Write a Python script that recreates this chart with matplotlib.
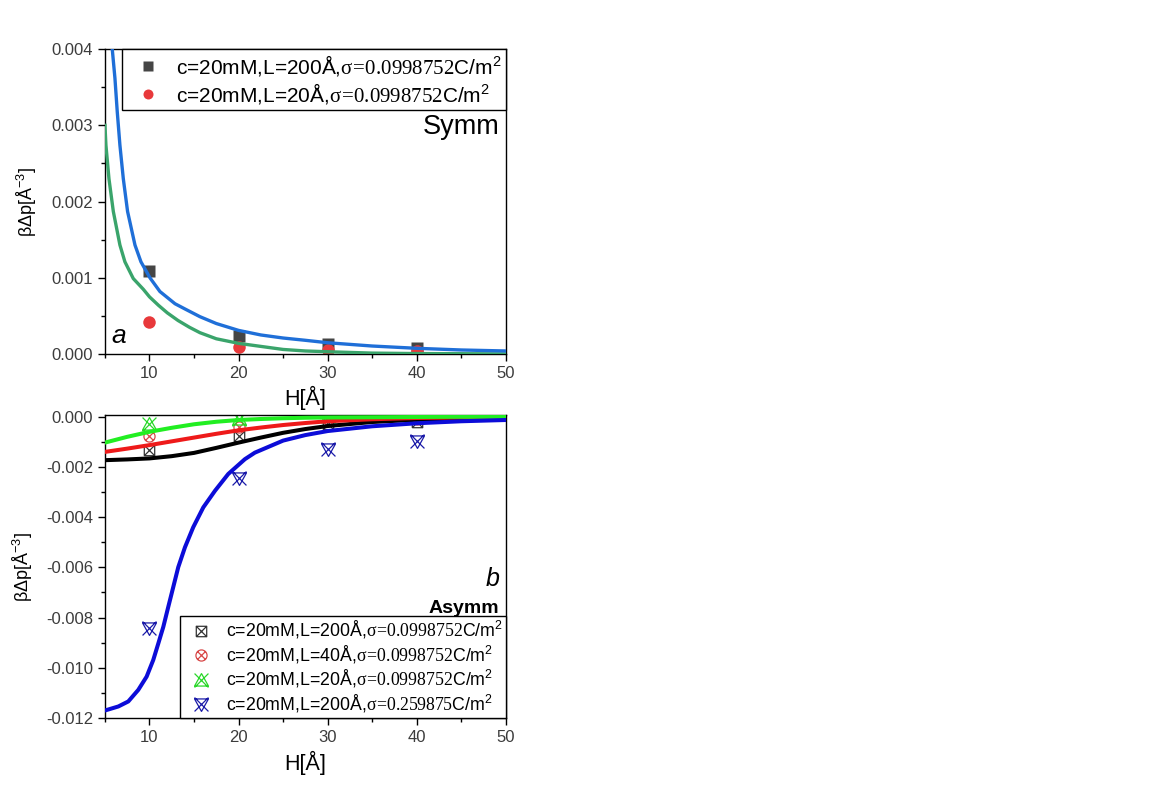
import numpy as np
import matplotlib
matplotlib.use('Agg')
import matplotlib.pyplot as plt
from matplotlib.path import Path
from matplotlib.ticker import MultipleLocator, FormatStrFormatter

plt.rcParams['font.family'] = ['Liberation Sans', 'DejaVu Sans']
plt.rcParams['mathtext.fontset'] = 'custom'
plt.rcParams['mathtext.rm'] = 'Liberation Serif'
plt.rcParams['mathtext.sf'] = 'Liberation Sans'
plt.rcParams['mathtext.it'] = 'Liberation Sans:italic'

# ---- panel a (symmetric) ----
H_pts = [10, 20, 30, 40]
symm_L200 = [0.00109, 0.00024, 0.00013, 0.000075]
symm_L20 = [0.00042, 0.000088, 0.00005, 0.00004]

h_fit200 = [5.7, 5.82, 6.12, 6.38, 6.68, 7.06, 7.54, 8.37, 9.04, 10.05, 11.17, 12.86,
            14.0, 15.66, 17.5, 20.0, 22.5, 25.0, 27.5, 30.0, 35.0, 40.0, 45.0, 50.0]
v_fit200 = [0.00415, 0.0040, 0.00362, 0.00318, 0.00274, 0.0023, 0.00187, 0.00143,
            0.00121, 0.0010, 0.00082, 0.00066, 0.00059, 0.00049, 0.0004, 0.00031,
            0.00025, 0.00021, 0.00018, 0.000148, 0.000105, 0.000075, 0.000053, 0.00004]
h_fit20 = [5.0, 5.11, 5.45, 5.94, 6.68, 7.24, 8.18, 9.3, 10.0, 11.0, 12.0, 13.2, 14.5,
           15.66, 17.5, 20.0, 22.5, 25.0, 27.5, 30.0, 35.0, 40.0, 50.0]
v_fit20 = [0.0030, 0.00274, 0.0023, 0.00187, 0.00143, 0.00121, 0.00099, 0.00085,
           0.00075, 0.00064, 0.00054, 0.00044, 0.00035, 0.00028, 0.0002, 0.00014,
           0.0001, 0.00006, 0.00004, 0.00003, 0.000012, 0.000006, 0.000002]

# ---- panel b (asymmetric) ----
asym_L200 = [-0.00133, -0.00077, -0.0003, -0.00021]
asym_L40 = [-0.00077, -0.00041, -0.0001, -0.00008]
asym_L20 = [-0.0003, -0.0001, 0.00002, 0.0001]
asym_L200_s26 = [-0.00843, -0.00245, -0.00129, -0.00096]

h_b = [5.0, 7.5, 10.0, 12.5, 15.0, 17.5, 20.0, 22.5, 25.0, 27.5, 30.0, 35.0, 40.0,
       45.0, 50.0]
v_black = [-0.00173, -0.0017, -0.00166, -0.00157, -0.00144, -0.00124, -0.00103,
           -0.00083, -0.00064, -0.00049, -0.00037, -0.00021, -0.00012, -0.00009,
           -0.00007]
v_red = [-0.0014, -0.00127, -0.00113, -0.00098, -0.00083, -0.00068, -0.00054,
         -0.00043, -0.00033, -0.00025, -0.00018, -0.0001, -0.00005, -0.00003,
         -0.00002]
v_green = [-0.00103, -0.0008, -0.0006, -0.00044, -0.0003, -0.0002, -0.00013,
           -0.00009, -0.00006, -0.00004, -0.00003, -0.00002, -0.00001, 0.0, 0.0]
h_blue = [5.0, 6.5, 7.62, 8.74, 9.68, 10.42, 10.99, 11.55, 12.11, 12.67, 13.23,
          13.98, 14.91, 16.04, 17.35, 18.84, 20.71, 21.83, 25.0, 27.5, 30.0, 35.0,
          40.0, 45.0, 50.0]
v_blue = [-0.0117, -0.01154, -0.01134, -0.01088, -0.01035, -0.00969, -0.00903,
          -0.00837, -0.00757, -0.00678, -0.00599, -0.0052, -0.0044, -0.00361,
          -0.00295, -0.00228, -0.00169, -0.00143, -0.00095, -0.00073, -0.00057,
          -0.00038, -0.00026, -0.00018, -0.00013]

lab200 = r'c=20mM,L=200Å,$\mathrm{\sigma\!=\!0.0998752}$C/m$^{\mathsf{2}}$'
lab40 = r'c=20mM,L=40Å,$\mathrm{\sigma\!=\!0.0998752}$C/m$^{\mathsf{2}}$'
lab20 = r'c=20mM,L=20Å,$\mathrm{\sigma\!=\!0.0998752}$C/m$^{\mathsf{2}}$'
lab200b = r'c=20mM,L=200Å,$\mathrm{\sigma\!=\!0.259875}$C/m$^{\mathsf{2}}$'


def crossed(shape):
    # outline marker with an X drawn through it
    if shape == 'square':
        base = Path([(-1, -1), (1, -1), (1, 1), (-1, 1), (-1, -1)])
        d = 1.0
    elif shape == 'circle':
        base = Path.unit_circle()
        d = 0.7
    elif shape == 'up':
        base = Path([(0, 1), (-1, -0.8), (1, -0.8), (0, 1)])
        d = 1.0
    else:
        base = Path([(0, -1), (-1, 0.8), (1, 0.8), (0, -1)])
        d = 1.0
    x1 = Path([(-d, -d), (d, d)])
    x2 = Path([(-d, d), (d, -d)])
    return Path.make_compound_path(base, x1, x2)


tick_col = '#3c3c3c'


def style(ax):
    ax.set_xlim(5, 50)
    ax.xaxis.set_major_locator(MultipleLocator(10))
    ax.xaxis.set_minor_locator(MultipleLocator(5))
    ax.tick_params(which='both', direction='out', top=False, right=False,
                   labelsize=12, labelcolor=tick_col, width=1)
    ax.tick_params(which='major', length=5)
    ax.tick_params(which='minor', length=3)
    for s in ax.spines.values():
        s.set_linewidth(1.0)
    ax.set_xlabel('H[Å]', fontsize=15.5)
    ax.set_ylabel(r'βΔp[Å$^{\mathsf{-3}}$]', fontsize=13)


fig = plt.figure(figsize=(11.52, 7.92), dpi=100)
ax1 = fig.add_axes([0.0911, 0.553, 0.348, 0.385])
ax2 = fig.add_axes([0.0911, 0.0934, 0.348, 0.382])

# panel a
ax1.plot(h_fit20, v_fit20, color='#3aa46b', lw=2.4, zorder=3)
ax1.plot(h_fit200, v_fit200, color='#1f6fd8', lw=2.4, zorder=4)
ax1.plot(H_pts, symm_L200, 's', color='#454545', ms=9, mec='none', zorder=2, label=lab200)
ax1.plot(H_pts, symm_L20, 'o', color='#e8393b', ms=9, mec='none', zorder=2, label=lab20)
ax1.set_ylim(0, 0.004)
ax1.yaxis.set_major_locator(MultipleLocator(0.001))
ax1.yaxis.set_minor_locator(MultipleLocator(0.0005))
ax1.yaxis.set_major_formatter(FormatStrFormatter('%.3f'))
style(ax1)
ax1.yaxis.set_label_coords(-0.165, 0.5)
ax1.xaxis.set_label_coords(0.5, -0.105)
leg1 = ax1.legend(loc='upper right', bbox_to_anchor=(1, 1), borderaxespad=0,
                  fontsize=15, fancybox=False, edgecolor='black', framealpha=1,
                  handlelength=2.1, handletextpad=0.3, labelspacing=0.13,
                  markerscale=0.8, borderpad=0.2)
leg1.get_frame().set_linewidth(1.0)
ax1.text(0.985, 0.721, 'Symm', transform=ax1.transAxes, ha='right', va='baseline',
         fontsize=19.5)
ax1.text(0.015, 0.037, 'a', transform=ax1.transAxes, ha='left', va='baseline',
         fontsize=19, style='italic')

# panel b
ax2.plot(h_b, v_black, color='black', lw=2.9, zorder=3)
ax2.plot(h_b, v_red, color='#ee1a1a', lw=2.9, zorder=3)
ax2.plot(h_b, v_green, color='#22ee22', lw=2.9, zorder=4)
ax2.plot(h_blue, v_blue, color='#0c0cd8', lw=2.9, zorder=5)
ax2.plot(H_pts, asym_L200, ls='none', marker=crossed('square'), ms=7.5, mfc='none',
         mec='#333333', mew=0.9, zorder=2, label=lab200)
ax2.plot(H_pts, asym_L40, ls='none', marker=crossed('circle'), ms=8, mfc='none',
         mec='#d84848', mew=0.9, zorder=2, label=lab40)
ax2.plot(H_pts, asym_L20, ls='none', marker=crossed('up'), ms=10, mfc='none',
         mec='#2ad82a', mew=0.9, zorder=2, label=lab20)
ax2.plot(H_pts, asym_L200_s26, ls='none', marker=crossed('down'), ms=10, mfc='none',
         mec='#1a1aa8', mew=0.9, zorder=2, label=lab200b)
ax2.set_ylim(-0.012, 0.00005)
ax2.yaxis.set_major_locator(MultipleLocator(0.002))
ax2.yaxis.set_minor_locator(MultipleLocator(0.001))
ax2.yaxis.set_major_formatter(FormatStrFormatter('%.3f'))
style(ax2)
ax2.yaxis.set_label_coords(-0.175, 0.5)
ax2.xaxis.set_label_coords(0.5, -0.108)
leg2 = ax2.legend(loc='lower right', bbox_to_anchor=(1, 0), borderaxespad=0,
                  fontsize=12.8, fancybox=False, edgecolor='black', framealpha=1,
                  handlelength=2.0, handletextpad=0.4, labelspacing=0.14,
                  markerscale=1.0, borderpad=0.17)
leg2.get_frame().set_linewidth(1.0)
ax2.text(0.985, 0.435, 'b', transform=ax2.transAxes, ha='right', va='baseline',
         fontsize=18, style='italic')
ax2.text(0.983, 0.347, 'Asymm', transform=ax2.transAxes, ha='right', va='baseline',
         fontsize=14, fontweight='bold')

fig.savefig('out.png', dpi=100)
